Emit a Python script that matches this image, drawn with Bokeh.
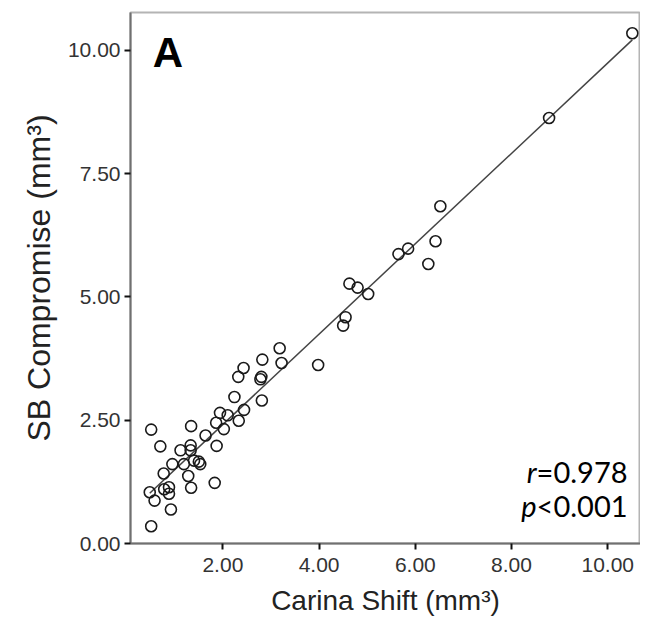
import numpy as np
from bokeh.plotting import figure
from bokeh.models import Range1d, FixedTicker, PrintfTickFormatter, Label, ColumnDataSource
from bokeh.embed import file_html
from bokeh.resources import INLINE

# Data
carina_shift = [0.51, 0.48, 0.58, 0.51, 0.70, 0.77, 0.78, 0.88, 0.88, 0.92, 0.95,
                1.12, 1.19, 1.28, 1.33, 1.34, 1.34, 1.33, 1.40, 1.50, 1.53, 1.64,
                1.83, 1.87, 1.86, 1.94, 2.02, 2.10, 2.33, 2.44, 2.24, 2.32, 2.43,
                2.81, 2.78, 2.80, 2.82, 3.18, 3.22, 3.98, 4.50, 4.55, 4.63, 4.80,
                5.02, 5.65, 5.85, 6.27, 6.42, 6.52, 8.78, 10.51]
sb_compromise = [0.35, 1.04, 0.87, 2.31, 1.97, 1.42, 1.10, 1.01, 1.14, 0.69, 1.61,
                 1.89, 1.61, 1.37, 1.89, 1.13, 2.38, 1.99, 1.68, 1.66, 1.61, 2.19,
                 1.23, 1.98, 2.45, 2.65, 2.32, 2.60, 2.49, 2.71, 2.97, 3.38, 3.56,
                 2.90, 3.33, 3.38, 3.73, 3.96, 3.66, 3.62, 4.42, 4.59, 5.27, 5.19,
                 5.06, 5.87, 5.98, 5.67, 6.13, 6.84, 8.63, 10.35]
x_ticks = [2, 4, 6, 8, 10]
y_ticks = [0, 2.5, 5, 7.5, 10]

x = np.array(carina_shift)
y = np.array(sb_compromise)
slope, intercept = np.polyfit(x, y, 1)
fit_x = [x.min(), x.max()]
fit_y = [intercept + slope * v for v in fit_x]

p = figure(width=640, height=624, output_backend="svg", toolbar_location=None,
           x_range=Range1d(0.08, 10.68), y_range=Range1d(0, 10.77),
           min_border_left=130, min_border_right=0, min_border_top=12, min_border_bottom=81)
p.background_fill_color = "white"
p.border_fill_color = "white"
p.outline_line_color = "#b4b4b4"
p.outline_line_width = 2
p.grid.visible = False

for ax in (p.xaxis[0], p.yaxis[0]):
    ax.axis_line_color = "#707070"
    ax.axis_line_width = 2
    ax.major_tick_line_color = "#111111"
    ax.major_tick_line_width = 2
    ax.major_tick_out = 6
    ax.major_tick_in = 0
    ax.minor_tick_line_color = None
    ax.major_label_text_font = "Liberation Sans"
    ax.major_label_text_font_size = "21px"
    ax.major_label_text_color = "#333333"
    ax.formatter = PrintfTickFormatter(format="%.2f")
    ax.axis_label_text_font = "Liberation Sans"
    ax.axis_label_text_font_style = "normal"
    ax.axis_label_text_color = "#222222"
    ax.axis_label_standoff = 10
p.xaxis[0].axis_label_text_font_size = "28px"
p.yaxis[0].axis_label_text_font_size = "32px"
p.yaxis[0].axis_label_standoff = 8
p.xaxis[0].ticker = FixedTicker(ticks=x_ticks)
p.yaxis[0].ticker = FixedTicker(ticks=y_ticks)
p.xaxis[0].major_label_standoff = 8
p.yaxis[0].major_label_standoff = 4
p.xaxis[0].axis_label = "Carina Shift (mm³)"
p.yaxis[0].axis_label = "SB Compromise (mm³)"

p.line(fit_x, fit_y, line_color="#444444", line_width=1.5)
src = ColumnDataSource(dict(x=carina_shift, y=sb_compromise))
p.scatter("x", "y", source=src, marker="circle", size=11, fill_alpha=0,
          line_color="#1a1a1a", line_width=1.6)

# Panel letter
p.add_layout(Label(x=0.54, y=9.49, text="A", text_font="Liberation Sans",
                   text_font_style="bold", text_font_size="42px", text_color="black"))

# Statistics
p.add_layout(Label(x=8.52, y=1.10, text="r", text_font="Lato", text_font_style="italic",
                   text_font_size="29px", text_align="right", text_color="black"))
p.add_layout(Label(x=8.52, y=1.10, text="=0.978", text_font="Lato",
                   text_font_size="29px", text_align="left", text_color="black"))
p.add_layout(Label(x=8.52, y=0.41, text="p", text_font="Lato", text_font_style="italic",
                   text_font_size="29px", text_align="right", text_color="black"))
p.add_layout(Label(x=8.52, y=0.41, text="<0.001", text_font="Lato",
                   text_font_size="29px", text_align="left", text_color="black"))

open("out.html", "w").write(file_html(p, INLINE))
